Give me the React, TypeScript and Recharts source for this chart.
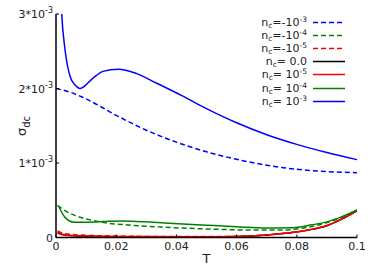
import { LineChart, Line, XAxis, YAxis, Legend, Label } from 'recharts';

// sigma_dc values are stored in units of 1e-3

// --- n_c = -1e-3 (blue dashed) ---
const tBlueDash = [0, 0.0047, 0.009, 0.02, 0.03, 0.04, 0.05, 0.06, 0.07, 0.08, 0.09, 0.1];
const vBlueDash = [2.0, 1.95, 1.88, 1.64, 1.44, 1.28, 1.15, 1.05, 0.97, 0.915, 0.885, 0.87];

// --- n_c = -1e-4 (green dashed) ---
const tGreenDash = [0.0005, 0.003, 0.006, 0.011, 0.016, 0.025, 0.035, 0.05, 0.065, 0.075, 0.082, 0.09, 0.095, 0.1];
const vGreenDash = [0.43, 0.36, 0.3, 0.24, 0.2, 0.165, 0.14, 0.115, 0.1, 0.1, 0.125, 0.2, 0.27, 0.37];

// --- n_c = -1e-5 (red dashed) ---
const tRedDash = [0.0005, 0.003, 0.01, 0.02, 0.04, 0.06, 0.07, 0.079, 0.085, 0.09, 0.095, 0.1];
const vRedDash = [0.09, 0.05, 0.03, 0.02, 0.012, 0.015, 0.035, 0.07, 0.11, 0.16, 0.25, 0.36];

// --- n_c = 0.0 (black) ---
const tBlack = [0.0005, 0.003, 0.01, 0.03, 0.05, 0.06, 0.07, 0.079, 0.085, 0.09, 0.095, 0.1];
const vBlack = [0.06, 0.03, 0.018, 0.01, 0.009, 0.014, 0.034, 0.069, 0.109, 0.158, 0.248, 0.358];

// --- n_c = 1e-5 (red) ---
const tRed = [0.0005, 0.003, 0.01, 0.03, 0.05, 0.06, 0.07, 0.079, 0.085, 0.09, 0.095, 0.1];
const vRed = [0.07, 0.035, 0.02, 0.012, 0.01, 0.015, 0.035, 0.07, 0.11, 0.16, 0.25, 0.36];

// --- n_c = 1e-4 (green) ---
const tGreen = [0.001, 0.003, 0.006, 0.01, 0.016, 0.022, 0.03, 0.036, 0.05, 0.06, 0.07, 0.078, 0.085, 0.09, 0.095, 0.1];
const vGreen = [0.41, 0.27, 0.205, 0.205, 0.215, 0.222, 0.21, 0.195, 0.165, 0.145, 0.128, 0.13, 0.17, 0.21, 0.28, 0.37];

// --- n_c = 1e-3 (blue) ---
const tBlue = [0.0008, 0.0019, 0.003, 0.0047, 0.0063, 0.008, 0.0123, 0.0156, 0.0207, 0.0268, 0.0335, 0.042, 0.05, 0.06, 0.07, 0.08, 0.09, 0.1];
const vBlue = [4.2, 3.0, 2.52, 2.16, 2.05, 2.0, 2.14, 2.23, 2.26, 2.2, 2.07, 1.9, 1.73, 1.54, 1.38, 1.25, 1.14, 1.045];

const xTicks = [0, 0.02, 0.04, 0.06, 0.08, 0.1];
const xTickLabels = ['0', '0.02', '0.04', '0.06', '0.08', '0.1'];
const yTicks = [0, 1, 2, 3];
const yTickLabels = ['0', '1*10', '2*10', '3*10'];

const zip = (ts: number[], vs: number[]) => ts.map((T, i) => ({ T, v: vs[i] }));

const series = [
  { key: 'bd', label: '=-10', exp: '-3', color: '#0000ff', dash: '5 3', data: zip(tBlueDash, vBlueDash) },
  { key: 'gd', label: '=-10', exp: '-4', color: '#008000', dash: '5 3', data: zip(tGreenDash, vGreenDash) },
  { key: 'rd', label: '=-10', exp: '-5', color: '#ff0000', dash: '5 3', data: zip(tRedDash, vRedDash) },
  { key: 'k', label: '= 0.0', exp: '', color: '#000000', dash: undefined, data: zip(tBlack, vBlack) },
  { key: 'r', label: '= 10', exp: '-5', color: '#ff0000', dash: undefined, data: zip(tRed, vRed) },
  { key: 'g', label: '= 10', exp: '-4', color: '#008000', dash: undefined, data: zip(tGreen, vGreen) },
  { key: 'b', label: '= 10', exp: '-3', color: '#0000ff', dash: undefined, data: zip(tBlue, vBlue) },
];

const FONT = '"DejaVu Sans", sans-serif';

const YTick = (props: any) => {
  const { x, y, payload } = props;
  const i = yTicks.indexOf(payload.value);
  return (
    <g>
      <line x1={x + 3} x2={x + 6} y1={y} y2={y} stroke="#000" strokeWidth={1} />
      <text x={x} y={y} dy={4} textAnchor="end" fontFamily={FONT} fontSize={11} fill="#222">
        {yTickLabels[i]}
        {payload.value !== 0 && (
          <tspan dy={-5} fontSize={8}>-3</tspan>
        )}
      </text>
    </g>
  );
};

const XTick = (props: any) => {
  const { x, y, payload } = props;
  const i = xTicks.indexOf(payload.value);
  return (
    <g>
      <line x1={x} x2={x} y1={y - 3} y2={y - 6} stroke="#000" strokeWidth={1} />
      <text x={x} y={y} dy={9} textAnchor="middle" fontFamily={FONT} fontSize={11} fill="#222">
        {xTickLabels[i]}
      </text>
    </g>
  );
};

const renderLegend = () => (
  <div style={{ fontFamily: FONT, fontSize: 11, color: '#222' }}>
    {series.map((s) => (
      <div key={s.key} style={{ display: 'flex', justifyContent: 'flex-end', alignItems: 'center', height: 13.1, overflow: 'visible' }}>
        <span style={{ whiteSpace: 'nowrap', lineHeight: '11px' }}>
          n<span style={{ fontSize: 7.5, lineHeight: '7px', position: 'relative', top: 2 }}>c</span>
          {s.label}
          {s.exp && <span style={{ fontSize: 7.5, lineHeight: '7px', position: 'relative', top: -4 }}>{s.exp}</span>}
        </span>
        <svg width={32} height={13} style={{ marginLeft: 6 }}>
          <line x1={0} x2={32} y1={6.5} y2={6.5} stroke={s.color} strokeWidth={1.5} strokeDasharray={s.dash} />
        </svg>
      </div>
    ))}
  </div>
);

export default function App() {
  return (
    <div style={{ position: 'absolute', left: 0, top: 0, width: 374, height: 280, background: '#fff' }}>
      <LineChart width={374} height={280} margin={{ top: 14, right: 17, bottom: 0, left: 0 }}>
        <XAxis
          dataKey="T"
          type="number"
          domain={[0, 0.1]}
          ticks={xTicks}
          tick={<XTick />}
          tickLine={false}
          tickSize={0}
          tickMargin={3}
          height={42.5}
          axisLine={{ stroke: '#000', strokeWidth: 1.5 }}
          allowDataOverflow
        >
          <Label
            content={() => (
              <text x={206.5} y={263} textAnchor="middle" fontFamily={FONT} fontSize={13} fill="#222">T</text>
            )}
          />
        </XAxis>
        <XAxis xAxisId="top" orientation="top" height={0} tick={false} tickLine={false} axisLine={{ stroke: '#000', strokeWidth: 1.5 }} />
        <YAxis
          type="number"
          domain={[0, 3]}
          ticks={yTicks}
          tick={<YTick />}
          tickLine={false}
          tickSize={0}
          tickMargin={3}
          width={56}
          axisLine={{ stroke: '#000', strokeWidth: 1.5 }}
          allowDataOverflow
        >
          <Label
            content={() => (
              <text x={26} y={126} transform="rotate(-90 26 126)" textAnchor="middle" fontFamily={FONT} fontSize={13} fill="#222">
                σ<tspan dy={4} fontSize={10}>dc</tspan>
              </text>
            )}
          />
        </YAxis>
        <YAxis yAxisId="right" orientation="right" width={0} tick={false} tickLine={false} axisLine={{ stroke: '#000', strokeWidth: 1.5 }} />
        <Legend
          layout="vertical"
          align="center"
          verticalAlign="middle"
          content={renderLegend}
          wrapperStyle={{ position: 'absolute', top: 16, left: 195, width: 150, height: 'auto' }}
        />
        {series.map((s) => (
          <Line
            key={s.key}
            data={s.data}
            dataKey="v"
            type="monotone"
            stroke={s.color}
            strokeWidth={1.5}
            strokeDasharray={s.dash}
            dot={false}
            activeDot={false}
            isAnimationActive={false}
          />
        ))}
      </LineChart>
    </div>
  );
}
